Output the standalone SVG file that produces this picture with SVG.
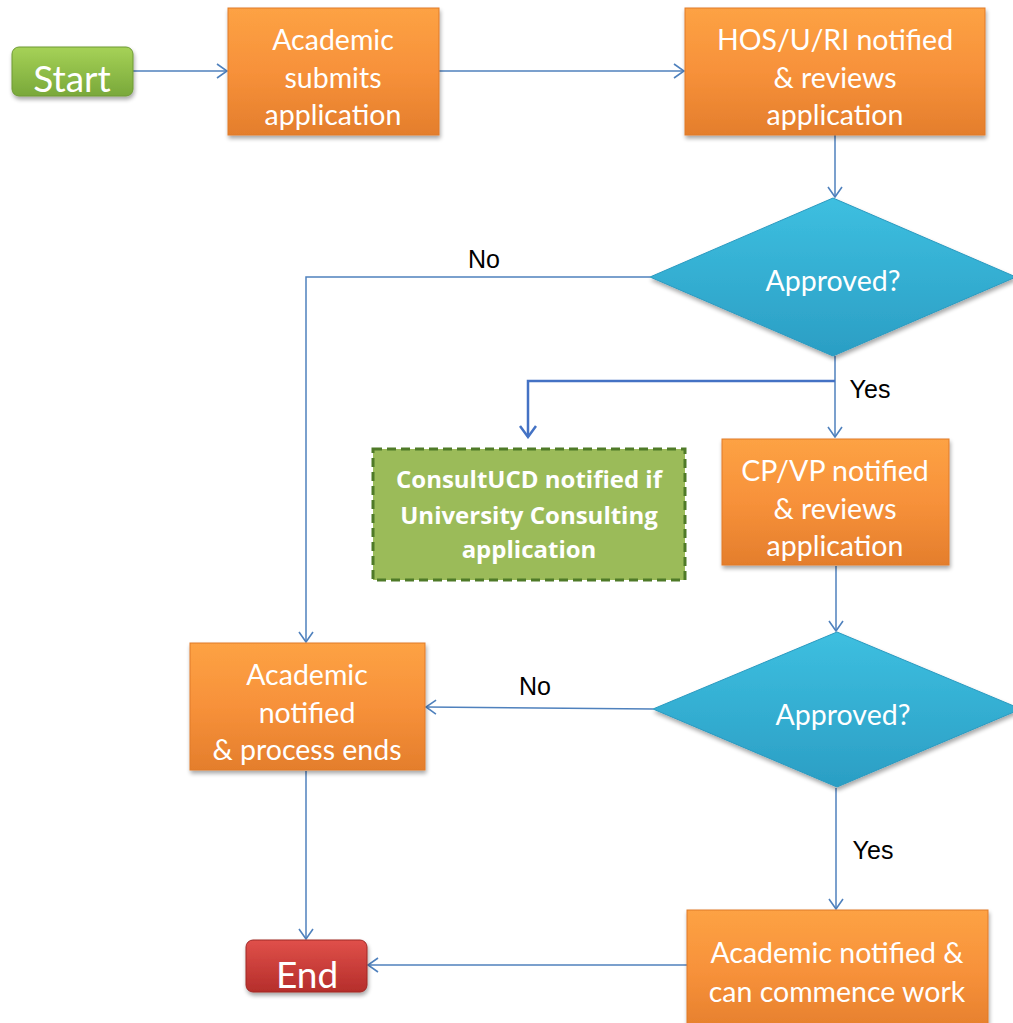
<svg xmlns="http://www.w3.org/2000/svg" width="1013" height="1023" viewBox="0 0 1013 1023">
<defs>
  <linearGradient id="gOrange" x1="0" y1="0" x2="0" y2="1">
    <stop offset="0" stop-color="#FDA244"/>
    <stop offset="0.5" stop-color="#F7913A"/>
    <stop offset="1" stop-color="#E47E2C"/>
  </linearGradient>
  <linearGradient id="gCyan" x1="0" y1="0" x2="0" y2="1">
    <stop offset="0" stop-color="#3DBFE0"/>
    <stop offset="1" stop-color="#2B9EC4"/>
  </linearGradient>
  <linearGradient id="gStart" x1="0" y1="0" x2="0" y2="1">
    <stop offset="0" stop-color="#A6D257"/>
    <stop offset="1" stop-color="#79A83A"/>
  </linearGradient>
  <linearGradient id="gEnd" x1="0" y1="0" x2="0" y2="1">
    <stop offset="0" stop-color="#E0504A"/>
    <stop offset="1" stop-color="#B52E2B"/>
  </linearGradient>
  <filter id="shadow" x="-10%" y="-10%" width="125%" height="130%">
    <feGaussianBlur in="SourceAlpha" stdDeviation="2"/>
    <feOffset dx="1" dy="3" result="b"/>
    <feComponentTransfer><feFuncA type="linear" slope="0.35"/></feComponentTransfer>
    <feMerge><feMergeNode/><feMergeNode in="SourceGraphic"/></feMerge>
  </filter>
  <marker id="arr" markerWidth="12" markerHeight="16" refX="11" refY="8" orient="auto" markerUnits="userSpaceOnUse">
    <path d="M1,1 L11,8 L1,15" fill="none" stroke="#4F81BD" stroke-width="1.6"/>
  </marker>
  <marker id="arrDark" markerWidth="14" markerHeight="18" refX="12" refY="9" orient="auto" markerUnits="userSpaceOnUse">
    <path d="M1,1 L12,9 L1,17" fill="none" stroke="#4472C4" stroke-width="2.5"/>
  </marker>
  <style>
    .box { fill: url(#gOrange); stroke: #E07B28; stroke-width: 1; filter: url(#shadow); }
    .dia { fill: url(#gCyan); stroke: #2B9AC0; stroke-width: 1; filter: url(#shadow); }
    .t { font-family: Lato, "Open Sans", "Liberation Sans", sans-serif; fill: #FFFFFF; text-anchor: middle; font-size: 28.5px; }
    .tb { font-family: "Open Sans", Lato, "Liberation Sans", sans-serif; fill: #FFFFFF; text-anchor: middle; font-size: 24px; font-weight: bold; }
    .big { font-size: 37px; }
    .lbl { font-family: "Liberation Sans", Arial, sans-serif; fill: #000000; font-size: 25px; text-anchor: middle; }
    .con { fill: none; stroke: #4F81BD; stroke-width: 1.5; marker-end: url(#arr); }
    .conDark { fill: none; stroke: #4472C4; stroke-width: 2.5; marker-end: url(#arrDark); }
  </style>
</defs>
<rect width="1013" height="1023" fill="#FFFFFF"/>

<g id="connectors">
  <path class="con" d="M133,71 L227,71"/>
  <path class="con" d="M439,71 L684,71"/>
  <path class="con" d="M835,135 L835,197"/>
  <path class="con" d="M650,277 L306,277 L306,642"/>
  <path class="con" d="M835,356 L835,437"/>
  <path class="conDark" d="M835,381 L528,381 L528,437"/>
  <path class="con" d="M836,566 L836,631"/>
  <path class="con" d="M653,709 L426,707"/>
  <path class="con" d="M836,788 L836,909"/>
  <path class="con" d="M306,771 L306,939"/>
  <path class="con" d="M687,965 L368,965"/>
  <text class="lbl" x="484" y="268">No</text>
  <text class="lbl" x="870" y="398">Yes</text>
  <text class="lbl" x="535" y="695">No</text>
  <text class="lbl" x="873" y="859">Yes</text>
</g>

<g id="start">
  <rect x="12" y="47" width="121" height="49" rx="7" fill="url(#gStart)" stroke="#6E9A34" stroke-width="1" filter="url(#shadow)"/>
  <text class="t big" x="72" y="92">Start</text>
</g>

<g id="submit">
  <rect class="box" x="228" y="8" width="211" height="127"/>
  <text class="t" x="333" y="50">Academic</text>
  <text class="t" x="333" y="88">submits</text>
  <text class="t" x="333" y="125">application</text>
</g>

<g id="hos">
  <rect class="box" x="685" y="8" width="300" height="127"/>
  <text class="t" x="835" y="50">HOS/U/RI notified</text>
  <text class="t" x="835" y="88">&amp; reviews</text>
  <text class="t" x="835" y="125">application</text>
</g>

<g id="approved1">
  <polygon class="dia" points="833,198 1016,277 833,356 650,277"/>
  <text class="t" x="833" y="291">Approved?</text>
</g>

<g id="consultucd">
  <rect x="373" y="449" width="312" height="131" fill="#9BBB59" stroke="#4F7A28" stroke-width="3" stroke-dasharray="9,5"/>
  <text class="tb" x="529" y="488">ConsultUCD notified if</text>
  <text class="tb" x="529" y="524">University Consulting</text>
  <text class="tb" x="529" y="558">application</text>
</g>

<g id="cpvp">
  <rect class="box" x="722" y="439" width="227" height="126"/>
  <text class="t" x="835" y="481">CP/VP notified</text>
  <text class="t" x="835" y="519">&amp; reviews</text>
  <text class="t" x="835" y="556">application</text>
</g>

<g id="approved2">
  <polygon class="dia" points="837,632 1021,709 837,787 653,709"/>
  <text class="t" x="843" y="725">Approved?</text>
</g>

<g id="rejected">
  <rect class="box" x="190" y="643" width="235" height="127"/>
  <text class="t" x="307" y="685">Academic</text>
  <text class="t" x="307" y="723">notified</text>
  <text class="t" x="307" y="760">&amp; process ends</text>
</g>

<g id="commence">
  <rect class="box" x="687" y="910" width="301" height="125"/>
  <text class="t" x="837" y="963">Academic notified &amp;</text>
  <text class="t" x="837" y="1002">can commence work</text>
</g>

<g id="end">
  <rect x="246" y="940" width="121" height="52" rx="7" fill="url(#gEnd)" stroke="#A02826" stroke-width="1" filter="url(#shadow)"/>
  <text class="t big" x="307" y="988">End</text>
</g>
</svg>
